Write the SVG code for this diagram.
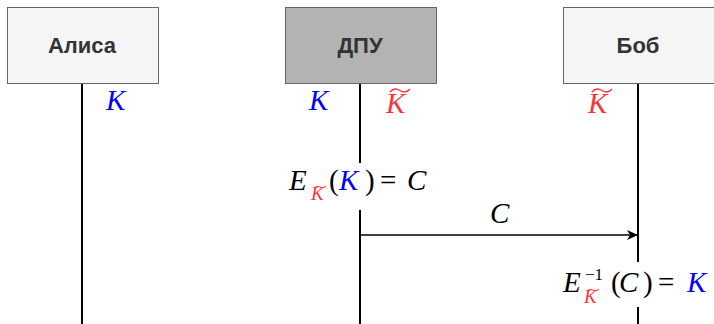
<svg xmlns="http://www.w3.org/2000/svg" width="714" height="324" viewBox="0 0 714 324">
<defs>
<style>
.box{stroke:#666;stroke-width:1}
.hdr{font-family:"Liberation Sans",Arial,sans-serif;font-weight:bold;font-size:22px;fill:#333;text-anchor:middle}
.life{stroke:#000;stroke-width:2;fill:none}
.m{font-family:"Liberation Serif","Times New Roman",serif;font-style:italic;font-size:29px}
.u{font-family:"Liberation Serif","Times New Roman",serif;font-size:29px}
.it{font-style:italic}
.s{font-size:19px}
.sup{font-size:17px}
.blue{fill:#0000ff}
.red{fill:#ff3333}
.blk{fill:#000}
</style>
<marker id="ah" markerWidth="12" markerHeight="10" refX="11" refY="5" orient="auto" markerUnits="userSpaceOnUse">
<path d="M0,0 L11,5 L0,10 L3,5 Z" fill="#000"/>
</marker>
</defs>
<rect width="714" height="324" fill="#fff"/>
<g id="connectors">
<path class="life" d="M82,83 V324"/>
<path class="life" d="M360,83 V163 M360,210 V324"/>
<path class="life" d="M638,83 V262 M638,307 V324"/>
<path d="M360,235 H638" stroke="#000" stroke-width="1.3" fill="none" marker-end="url(#ah)"/>
</g>
<g id="alice">
<rect class="box" x="7.5" y="7.5" width="151" height="76" fill="#f5f5f5"/>
<text class="hdr" x="82" y="53">Алиса</text>
</g>
<g id="dpu">
<rect class="box" x="285.5" y="7.5" width="151" height="76" fill="#b3b3b3"/>
<text class="hdr" x="360" y="53">ДПУ</text>
</g>
<g id="bob">
<rect class="box" x="563.5" y="7.5" width="151" height="76" fill="#f5f5f5"/>
<text class="hdr" x="638" y="53">Боб</text>
</g>
<g id="labels">
<text class="m blue" x="106" y="110">K</text>
<text class="m blue" x="309" y="110">K</text>
<text class="m red" x="386" y="113">K</text>
<path d="M390,92 q4,-5 10,-1.5 t10,-1.5" stroke="#ff3333" stroke-width="1.4" fill="none"/>
<text class="m red" x="588" y="113">K</text>
<path d="M592,92 q4,-5 10,-1.5 t10,-1.5" stroke="#ff3333" stroke-width="1.4" fill="none"/>

<text class="m blk" x="289" y="190">E</text>
<text class="m red s" x="311" y="200">K</text>
<path d="M314,188 q2.5,-3 6,-1 t6,-1" stroke="#ff3333" stroke-width="1" fill="none"/>
<text class="u blk" x="329" y="190">(<tspan class="it blue" x="339">K</tspan><tspan x="365">)</tspan><tspan x="380">=</tspan><tspan class="it" x="407">C</tspan></text>

<text class="m blk" x="490" y="223">C</text>

<text class="m blk" x="563" y="292">E</text>
<text class="u blk sup" x="585" y="280">−1</text>
<text class="m red s" x="584" y="303">K</text>
<path d="M587,291 q2.5,-3 6,-1 t6,-1" stroke="#ff3333" stroke-width="1" fill="none"/>
<text class="u blk" x="611" y="292">(<tspan class="it" x="619">C</tspan><tspan x="643">)</tspan><tspan x="658">=</tspan><tspan class="it blue" x="687">K</tspan></text>
</g>
</svg>
